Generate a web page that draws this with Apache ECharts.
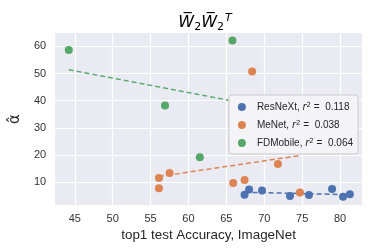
<!DOCTYPE html>
<html><head><meta charset="utf-8">
<script src="https://cdn.jsdelivr.net/npm/echarts@6/dist/echarts.min.js"></script>
<style>html,body{margin:0;padding:0;background:#fff}#c{width:374px;height:249px}</style>
</head><body><div id="c"></div>
<script>
// Data
const resnextX = [67.4, 68.0, 69.7, 73.4, 75.9, 78.95, 80.4, 81.3];
const resnextY = [5.4, 7.3, 6.9, 4.9, 5.3, 7.5, 4.6, 5.6];
const menetX = [56.1, 56.1, 57.5, 65.9, 67.4, 68.4, 71.8, 74.7];
const menetY = [11.5, 7.8, 13.4, 9.7, 10.8, 50.7, 16.7, 6.2];
const fdX = [44.2, 56.9, 61.5, 65.8];
const fdY = [58.6, 38.2, 19.2, 62.1];
// fitted dashed lines (endpoints)
const resnextFitX = [67.4, 81.3];
const resnextFitY = [6.3, 5.4];
const menetFitX = [56.1, 74.7];
const menetFitY = [12.1, 19.8];
const fdFitX = [44.2, 65.8];
const fdFitY = [51.4, 39.9];
const seriesNames = ['ResNeXt', 'MeNet', 'FDMobile'];
const r2 = ['0.118', '0.038', '0.064'];
const xTicks = [45, 50, 55, 60, 65, 70, 75, 80];
const yTicks = [10, 20, 30, 40, 50, 60];
const colors = ['#4C72B0', '#DD8452', '#55A868'];

const zip = (a, b) => a.map((v, i) => [v, b[i]]);
const chart = echarts.init(document.getElementById('c'), null, {renderer: 'canvas'});
const font = 'Liberation Sans, Arial, sans-serif';
const pts = [zip(resnextX, resnextY), zip(menetX, menetY), zip(fdX, fdY)];
const fits = [zip(resnextFitX, resnextFitY), zip(menetFitX, menetFitY), zip(fdFitX, fdFitY)];
const series = [];
for (let i = 0; i < 3; i++) {
  series.push({type: 'line', data: fits[i], symbol: 'none', silent: true, z: 1,
    lineStyle: {color: colors[i], width: 1.5, type: [5, 3]}, name: seriesNames[i] + '_fit'});
}
for (let i = 0; i < 3; i++) {
  series.push({type: 'scatter', name: seriesNames[i], data: pts[i], symbolSize: 8, z: 3,
    itemStyle: {color: colors[i], opacity: 1}});
}
const legendRich = {
  n: {fontFamily: font, fontSize: 10, color: '#262626'},
  i: {fontFamily: 'DejaVu Sans', fontStyle: 'italic', fontSize: 10, color: '#262626'},
  s: {fontFamily: 'DejaVu Sans', fontSize: 7, color: '#262626', verticalAlign: 'top', lineHeight: 10}
};
chart.setOption({
  animation: false,
  backgroundColor: '#ffffff',
  grid: {left: 50, right: 12, top: 33, bottom: 44, show: true, backgroundColor: '#EAEAF2', borderWidth: 0},
  graphic: [{
    type: 'text', x: 205, y: 13, z: 10,
    style: {
      text: '{w|W\u0305}{s|2}{w|W\u0305}{s|2}{t|T}',
      align: 'center',
      rich: {
        w: {fontFamily: 'DejaVu Sans', fontStyle: 'italic', fontSize: 16, color: '#262626', lineHeight: 20},
        s: {fontFamily: 'DejaVu Sans', fontSize: 11, color: '#262626', verticalAlign: 'bottom', lineHeight: 14, padding: [6, 0, 0, 0]},
        t: {fontFamily: 'DejaVu Sans', fontStyle: 'italic', fontSize: 11, color: '#262626', verticalAlign: 'top', padding: [0, 0, 8, 1]}
      }
    }
  }],
  legend: {
    data: seriesNames,
    orient: 'vertical', right: 16, top: 95,
    padding: [7, 5, 6, 9], itemGap: 8,
    itemWidth: 8, itemHeight: 8,
    backgroundColor: 'rgba(244,244,248,0.92)', borderColor: '#cccccc', borderWidth: 1, borderRadius: 3,
    icon: 'circle',
    formatter: function (name) {
      const k = seriesNames.indexOf(name);
      return '{n|' + name + ', }{i|r}{s|2}{n| =  ' + r2[k] + '}';
    },
    textStyle: {rich: legendRich, padding: [0, 0, 0, 6]}
  },
  xAxis: {
    type: 'value', min: 42.4, max: 82.9,
    name: 'top1 test Accuracy, ImageNet', nameLocation: 'middle', nameGap: 24,
    nameTextStyle: {fontFamily: font, fontSize: 13.4, color: '#262626'},
    axisLine: {show: false}, axisTick: {show: false, customValues: xTicks},
    axisLabel: {customValues: xTicks, fontFamily: font, fontSize: 11, color: '#333', margin: 8},
    splitLine: {show: true, lineStyle: {color: '#ffffff', width: 1.2}}
  },
  yAxis: {
    type: 'value', min: 1.6, max: 64.9,
    name: '\u03B1\u0302', nameLocation: 'middle', nameGap: 20, nameRotate: 90,
    nameTextStyle: {fontFamily: 'DejaVu Sans', fontSize: 15, color: '#262626'},
    axisLine: {show: false}, axisTick: {show: false, customValues: yTicks},
    axisLabel: {customValues: yTicks, fontFamily: font, fontSize: 11, color: '#333', margin: 9},
    splitLine: {show: true, lineStyle: {color: '#ffffff', width: 1.2}}
  },
  series: series
});
</script></body></html>
